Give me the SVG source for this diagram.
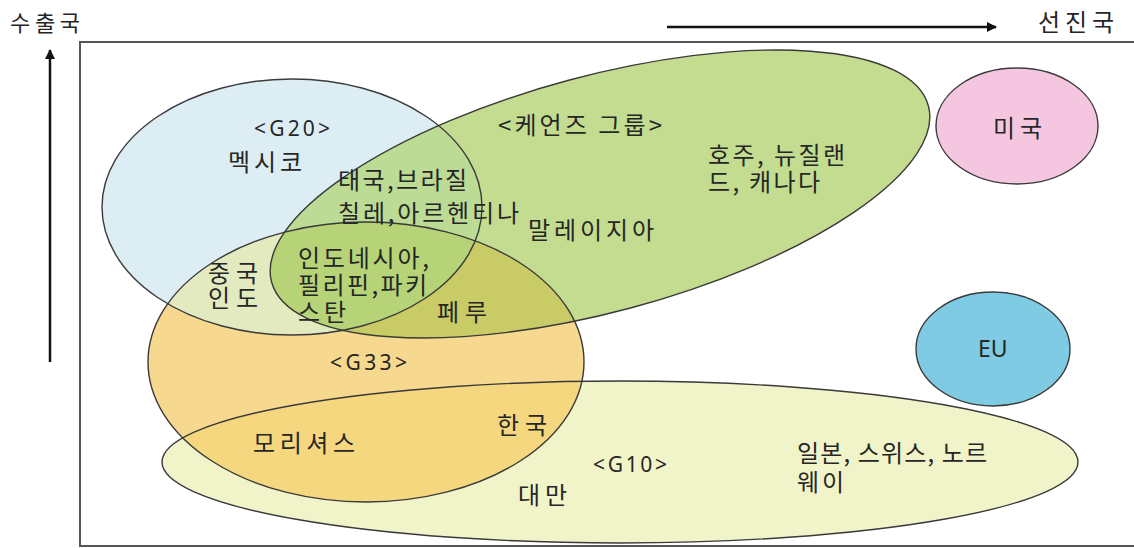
<svg xmlns="http://www.w3.org/2000/svg" width="1134" height="548" viewBox="0 0 1134 548">
<style>
.t{font-family:"Noto Sans CJK KR","Noto Sans",sans-serif;font-size:24px;fill:#262626;}
.g{font-family:"Noto Sans","Noto Sans CJK KR",sans-serif;font-size:21px;fill:#262626;}
.ol{fill:none;stroke:#3a3a3a;stroke-width:1.4;}
.ax{stroke:#111;stroke-width:2.5;fill:none;}
</style>
<defs>
<ellipse id="eG20" cx="292" cy="207" rx="190" ry="128"/>
<ellipse id="eCairns" cx="600" cy="194" rx="340" ry="118" transform="rotate(-15 600 194)"/>
<ellipse id="eG33" cx="366" cy="362" rx="218" ry="140"/>
<ellipse id="eG10" cx="620" cy="462" rx="458" ry="81"/>
<clipPath id="cG20"><use href="#eG20"/></clipPath>
<clipPath id="cCairns"><use href="#eCairns"/></clipPath>
<clipPath id="cG33"><use href="#eG33"/></clipPath>
<marker id="ah" viewBox="0 0 10 10" refX="9" refY="5" markerWidth="4" markerHeight="4" orient="auto"><path d="M0,0 L10,5 L0,10 z" fill="#111"/></marker>
</defs>
<rect x="0" y="0" width="1134" height="548" fill="#fff"/>
<rect x="80" y="42" width="1070" height="504" fill="none" stroke="#555" stroke-width="2"/>
<g id="fills">
<use href="#eG10" fill="#f1f4c9"/>
<use href="#eG33" fill="#f6d88e"/>
<use href="#eG20" fill="#dcedf3"/>
<use href="#eCairns" fill="#c3dc90"/>
<g clip-path="url(#cG33)"><use href="#eG10" fill="#f4d77e"/></g>
<g clip-path="url(#cG20)"><use href="#eG33" fill="#e4eac0"/></g>
<g clip-path="url(#cCairns)"><use href="#eG20" fill="#bcdb95"/></g>
<g clip-path="url(#cCairns)"><use href="#eG33" fill="#c8cb66"/></g>
<g clip-path="url(#cCairns)"><g clip-path="url(#cG20)"><use href="#eG33" fill="#b6d477"/></g></g>
</g>
<g id="node-g10">
<use href="#eG10" class="ol"/>
<text class="g" x="593" y="472" textLength="74">&lt;G10&gt;</text>
<text class="t" x="518" y="504" textLength="49">대만</text>
<text class="t" x="797" y="462" textLength="190">일본, 스위스, 노르</text>
<text class="t" x="797" y="491" textLength="47">웨이</text>
</g>
<g id="node-g33">
<use href="#eG33" class="ol"/>
<text class="g" x="330" y="370" textLength="77">&lt;G33&gt;</text>
<text class="t" x="497" y="434" textLength="50">한국</text>
<text class="t" x="253" y="452" textLength="102">모리셔스</text>
</g>
<g id="node-g20">
<use href="#eG20" class="ol"/>
<text class="g" x="254" y="136" textLength="76">&lt;G20&gt;</text>
<text class="t" x="228" y="171" textLength="74">멕시코</text>
<text class="t" x="208" y="282" textLength="50">중국</text>
<text class="t" x="208" y="307" textLength="50">인도</text>
</g>
<g id="node-cairns">
<use href="#eCairns" class="ol"/>
<text class="t" x="498" y="134" textLength="164">&lt;케언즈 그룹&gt;</text>
<text class="t" x="338" y="189" textLength="129">태국,브라질</text>
<text class="t" x="338" y="222" textLength="181">칠레,아르헨티나</text>
<text class="t" x="528" y="239" textLength="126">말레이지아</text>
<text class="t" x="708" y="164" textLength="137">호주, 뉴질랜</text>
<text class="t" x="708" y="191" textLength="112">드, 캐나다</text>
<text class="t" x="298" y="267" textLength="131">인도네시아,</text>
<text class="t" x="298" y="294" textLength="129">필리핀,파키</text>
<text class="t" x="298" y="321" textLength="48">스탄</text>
<text class="t" x="437" y="321" textLength="50">페루</text>
</g>
<g id="node-us">
<ellipse cx="1017" cy="126" rx="81" ry="58" fill="#f5c6df" stroke="#3a3a3a" stroke-width="1.4"/>
<text class="t" x="993" y="137" textLength="49">미국</text>
</g>
<g id="node-eu">
<ellipse cx="993" cy="349" rx="77" ry="57" fill="#7ecbe3" stroke="#3a3a3a" stroke-width="1.4"/>
<text class="g" x="978" y="357" style="font-size:23px">EU</text>
</g>
<g id="connectors">
<line class="ax" x1="50" y1="362" x2="50" y2="50" marker-end="url(#ah)"/>
<line class="ax" x1="667" y1="27" x2="996" y2="27" marker-end="url(#ah)"/>
</g>
<g id="axis-labels">
<text class="t" x="10" y="31" textLength="70" style="font-size:22px">수출국</text>
<text class="t" x="1038" y="31" textLength="76">선진국</text>
</g>
</svg>
